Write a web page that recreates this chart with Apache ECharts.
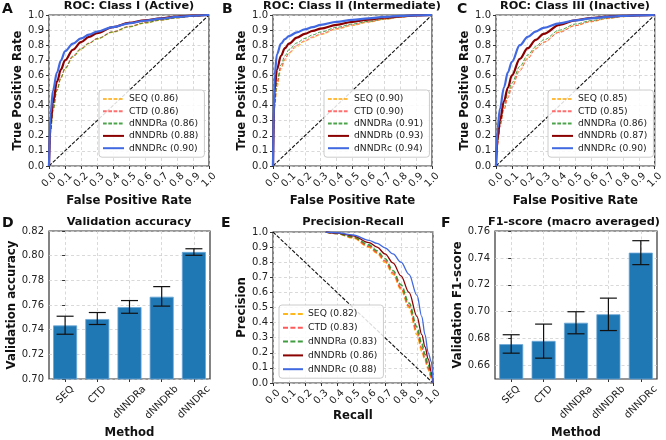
<!DOCTYPE html>
<html><head><meta charset="utf-8">
<script src="https://cdn.jsdelivr.net/npm/echarts@6/dist/echarts.min.js"></script>
<style>html,body{margin:0;padding:0;background:#fff}#c{width:666px;height:440px}</style>
</head><body><div id="c"></div>
<script>
const methods = ['SEQ','CTD','dNNDRa','dNNDRb','dNNDRc'];
const fprGrid = [0,0.01,0.025,0.05,0.075,0.1,0.15,0.2,0.25,0.3,0.4,0.5,0.6,0.7,0.8,0.9,1.0];
const unitTickLabels = ['0.0','0.1','0.2','0.3','0.4','0.5','0.6','0.7','0.8','0.9','1.0'];

// Panel A: ROC Class I (Active)
const aucA = [0.86,0.86,0.86,0.88,0.90];
const rocA_SEQ    = [0,0.22,0.36,0.50,0.58,0.64,0.72,0.77,0.81,0.84,0.885,0.92,0.945,0.965,0.98,0.992,1];
const rocA_CTD    = [0,0.24,0.38,0.51,0.59,0.65,0.73,0.78,0.815,0.845,0.89,0.925,0.95,0.968,0.982,0.993,1];
const rocA_dNNDRa = [0,0.23,0.37,0.50,0.585,0.645,0.725,0.775,0.812,0.842,0.888,0.922,0.948,0.967,0.981,0.992,1];
const rocA_dNNDRb = [0,0.28,0.42,0.56,0.64,0.70,0.77,0.82,0.855,0.88,0.92,0.948,0.965,0.978,0.99,0.996,1];
const rocA_dNNDRc = [0,0.35,0.50,0.62,0.70,0.76,0.81,0.845,0.87,0.89,0.92,0.945,0.962,0.976,0.988,0.995,1];

// Panel B: ROC Class II (Intermediate)
const aucB = [0.90,0.90,0.91,0.93,0.94];
const rocB_SEQ    = [0,0.38,0.52,0.64,0.70,0.745,0.79,0.825,0.85,0.87,0.905,0.93,0.952,0.97,0.985,0.995,1];
const rocB_CTD    = [0,0.40,0.54,0.65,0.71,0.75,0.80,0.83,0.855,0.875,0.91,0.935,0.955,0.972,0.986,0.995,1];
const rocB_dNNDRa = [0,0.42,0.56,0.67,0.73,0.77,0.815,0.845,0.868,0.887,0.918,0.94,0.958,0.974,0.987,0.996,1];
const rocB_dNNDRb = [0,0.50,0.64,0.73,0.78,0.81,0.85,0.875,0.895,0.91,0.935,0.955,0.97,0.982,0.991,0.997,1];
const rocB_dNNDRc = [0,0.60,0.74,0.81,0.84,0.86,0.885,0.905,0.92,0.935,0.955,0.968,0.978,0.987,0.994,0.998,1];

// Panel C: ROC Class III (Inactive)
const aucC = [0.85,0.85,0.86,0.87,0.90];
const rocC_SEQ    = [0,0.15,0.27,0.38,0.46,0.53,0.64,0.72,0.78,0.82,0.89,0.93,0.955,0.975,0.988,0.996,1];
const rocC_CTD    = [0,0.14,0.26,0.37,0.45,0.52,0.63,0.71,0.775,0.82,0.885,0.93,0.958,0.978,0.99,0.997,1];
const rocC_dNNDRa = [0,0.16,0.28,0.40,0.48,0.55,0.66,0.735,0.79,0.835,0.90,0.94,0.963,0.98,0.991,0.997,1];
const rocC_dNNDRb = [0,0.18,0.30,0.43,0.52,0.60,0.71,0.78,0.835,0.875,0.935,0.965,0.98,0.99,0.995,0.998,1];
const rocC_dNNDRc = [0,0.25,0.38,0.52,0.62,0.69,0.80,0.855,0.89,0.915,0.945,0.965,0.978,0.988,0.994,0.998,1];

// Panel E: Precision-Recall
const apE = [0.82,0.83,0.83,0.86,0.88];
const recallGrid  = [0.33,0.4,0.5,0.6,0.65,0.7,0.75,0.8,0.85,0.9,0.93,0.95,0.97,0.99,1.0];
const prE_SEQ    = [1.0,0.99,0.96,0.90,0.86,0.80,0.72,0.62,0.50,0.32,0.21,0.15,0.09,0.03,0];
const prE_CTD    = [1.0,0.99,0.965,0.905,0.865,0.81,0.73,0.63,0.51,0.34,0.23,0.16,0.10,0.04,0];
const prE_dNNDRa = [1.0,0.99,0.968,0.915,0.875,0.825,0.745,0.65,0.53,0.37,0.26,0.19,0.12,0.05,0];
const prE_dNNDRb = [1.0,0.992,0.975,0.93,0.90,0.855,0.795,0.71,0.60,0.44,0.32,0.24,0.16,0.07,0];
const prE_dNNDRc = [1.0,0.995,0.98,0.945,0.925,0.895,0.855,0.80,0.72,0.58,0.44,0.32,0.20,0.14,0];

// Panel D: Validation accuracy
const accMean = [0.7434,0.7486,0.7583,0.7667,0.8030];
const accLow  = [0.7363,0.7442,0.7533,0.7591,0.8003];
const accHigh = [0.7509,0.7539,0.7636,0.7749,0.8056];

// Panel F: F1-score
const f1Mean = [0.6759,0.6783,0.6918,0.6981,0.7439];
const f1Low  = [0.6692,0.6655,0.6836,0.6860,0.7350];
const f1High = [0.6829,0.6908,0.7000,0.7101,0.7528];
const f1Ticks = [0.66,0.68,0.70,0.72,0.74,0.76];
const catPos = [0,1,2,3,4];

const FONT = 'DejaVu Sans';
const LABEL_FS = 10;
const rocStyle = [
  {color:'rgba(255,165,0,0.75)', width:1, type:[3.7,1.6]},
  {color:'rgba(255,50,50,0.7)', width:1, type:[3.7,1.6]},
  {color:'rgba(30,140,30,0.8)', width:1, type:[3.7,1.6]},
  {color:'#8b0000', width:2.2, type:'solid'},
  {color:'#4169e1', width:2.2, type:'solid'}
];
const prStyle = [
  {color:'rgba(255,175,0,0.9)', width:1.6, type:[5,2.4]},
  {color:'rgba(255,60,60,0.85)', width:1.6, type:[5,2.4]},
  {color:'rgba(30,140,30,0.85)', width:1.6, type:[5,2.4]},
  {color:'#8b0000', width:1.3, type:'solid'},
  {color:'#4169e1', width:1.3, type:'solid'}
];

function pts(xs, ys){ return xs.map((x,i)=>[x, ys[i]]); }

// measure text to centre 45-degree rotated labels under their tick (matplotlib ha='center')
const mctx = document.createElement('canvas').getContext('2d');
function textW(t, fs){ mctx.font = fs + 'px "' + FONT + '"'; return mctx.measureText(t).width; }
function rotRich(texts, prefix){
  const rich = {};
  texts.forEach((t, i) => {
    const L = textW(t, LABEL_FS), h = LABEL_FS;
    const D = 5 + 0.3536 * (L + h);
    const P = 1.4142 * D;
    rich[prefix + i] = {fontFamily:FONT, fontSize:LABEL_FS, color:'#222', padding:[P, P, 0, 0]};
  });
  return rich;
}

const grids = [
  {left:49, top:15, width:160, height:151},
  {left:273, top:15, width:159, height:151},
  {left:496, top:15, width:159, height:151},
  {left:49, top:231, width:161, height:152},
  {left:273, top:232, width:160, height:151},
  {left:495, top:231, width:162, height:152}
].map(g => Object.assign(g, {show:true, borderColor:'#333', borderWidth:1.2, backgroundColor:'transparent'}));

const splitLine = {show:true, lineStyle:{color:'#cfcfcf', type:[3,2.5], width:0.8}};
const tick = {show:true, length:3, lineStyle:{color:'#333', width:1}};
const lab = {fontFamily:FONT, fontSize:LABEL_FS, color:'#222'};
const nameStyle = {fontFamily:FONT, fontSize:11.7, fontWeight:'bold', color:'#111'};
const unitRich = rotRich(unitTickLabels, 'u');
const catRich = rotRich(methods, 'm');

function unitX(gi, name, gap){
  return {type:'value', gridIndex:gi, min:0, max:1, interval:0.1,
    axisLine:{show:false}, axisTick:tick, splitLine,
    axisLabel:Object.assign({}, lab, {rotate:45, margin:0, align:'center', verticalAlign:'middle',
      formatter:v=>{const i=Math.round(v*10); return '{u'+i+'|'+unitTickLabels[i]+'}';}, rich:unitRich}),
    name, nameLocation:'middle', nameGap:gap, nameTextStyle:nameStyle};
}
function unitY(gi, name, gap){
  return {type:'value', gridIndex:gi, min:0, max:1, interval:0.1,
    axisLine:{show:false}, axisTick:tick, splitLine,
    axisLabel:Object.assign({margin:5, formatter:v=>unitTickLabels[Math.round(v*10)]}, lab),
    name, nameLocation:'middle', nameGap:gap, nameTextStyle:nameStyle};
}
function catX(gi){
  return {type:'value', gridIndex:gi, min:-0.5, max:4.5,
    axisLine:{show:false},
    axisTick:Object.assign({customValues:catPos}, tick), splitLine,
    axisLabel:Object.assign({}, lab, {customValues:catPos, rotate:45, margin:0, align:'center', verticalAlign:'middle',
      formatter:v=>{const i=Math.round(v); return '{m'+i+'|'+methods[i]+'}';}, rich:catRich}),
    name:'Method', nameLocation:'middle', nameGap:48, nameTextStyle:nameStyle};
}

const xAxis = [unitX(0,'False Positive Rate',29), unitX(1,'False Positive Rate',29), unitX(2,'False Positive Rate',29),
  catX(3), unitX(4,'Recall',27), catX(5)];
const yAxis = [unitY(0,'True Positive Rate',24), unitY(1,'True Positive Rate',24), unitY(2,'True Positive Rate',24),
  {type:'value', gridIndex:3, min:0.70, max:0.82, interval:0.02,
    axisLine:{show:false}, axisTick:tick, splitLine,
    axisLabel:Object.assign({margin:5, formatter:v=>v.toFixed(2)}, lab),
    name:'Validation accuracy', nameLocation:'middle', nameGap:30, nameTextStyle:nameStyle},
  unitY(4,'Precision',24),
  {type:'value', gridIndex:5, min:0.65, max:0.76,
    axisLine:{show:false}, axisTick:Object.assign({customValues:f1Ticks}, tick), splitLine,
    axisLabel:Object.assign({customValues:f1Ticks, margin:5, formatter:v=>v.toFixed(2)}, lab),
    name:'Validation F1-score', nameLocation:'middle', nameGap:30, nameTextStyle:nameStyle}
];

const series = [];
function diag(gi, data){
  series.push({type:'line', xAxisIndex:gi, yAxisIndex:gi, data, symbol:'none', silent:true,
    lineStyle:{color:'#111', width:1.1, type:[3.7,1.6]}, z:1});
}
function curves(gi, xs, ysList, scores, styles){
  ysList.forEach((ys, i) => {
    const st = styles[i];
    series.push({type:'line', name:methods[i]+' ('+scores[i].toFixed(2)+')', xAxisIndex:gi, yAxisIndex:gi,
      data:pts(xs, ys), symbol:'none', smooth:0.35, smoothMonotone:'x', clip:true,
      color:st.color, lineStyle:{color:st.color, width:st.width, type:st.type}, z:2+i});
  });
}
diag(0, [[0,0],[1,1]]); diag(1, [[0,0],[1,1]]); diag(2, [[0,0],[1,1]]); diag(4, [[0,1],[1,0]]);
curves(0, fprGrid, [rocA_SEQ,rocA_CTD,rocA_dNNDRa,rocA_dNNDRb,rocA_dNNDRc], aucA, rocStyle);
curves(1, fprGrid, [rocB_SEQ,rocB_CTD,rocB_dNNDRa,rocB_dNNDRb,rocB_dNNDRc], aucB, rocStyle);
curves(2, fprGrid, [rocC_SEQ,rocC_CTD,rocC_dNNDRa,rocC_dNNDRb,rocC_dNNDRc], aucC, rocStyle);
curves(4, recallGrid, [prE_SEQ,prE_CTD,prE_dNNDRa,prE_dNNDRb,prE_dNNDRc], apE, prStyle);

function bars(gi, means, lows, highs){
  series.push({type:'bar', xAxisIndex:gi, yAxisIndex:gi, data:pts(catPos, means), barWidth:24, clip:true,
    itemStyle:{color:'#1f77b4', borderColor:'#6aa6d6', borderWidth:0.8}, z:2, silent:true});
  series.push({type:'custom', xAxisIndex:gi, yAxisIndex:gi, silent:true, z:5,
    data:catPos.map((c,i)=>[c, lows[i], highs[i]]),
    renderItem:(params, api)=>{
      const a = api.coord([api.value(0), api.value(1)]);
      const b = api.coord([api.value(0), api.value(2)]);
      const w = 8.5, s = {stroke:'#111', lineWidth:1.2};
      return {type:'group', children:[
        {type:'line', shape:{x1:a[0], y1:a[1], x2:b[0], y2:b[1]}, style:s},
        {type:'line', shape:{x1:a[0]-w, y1:a[1], x2:a[0]+w, y2:a[1]}, style:s},
        {type:'line', shape:{x1:b[0]-w, y1:b[1], x2:b[0]+w, y2:b[1]}, style:s}
      ]};
    }});
}
bars(3, accMean, accLow, accHigh);
bars(5, f1Mean, f1Low, f1High);

function legend(names, left, top, iw, gap){
  return {data:names, left, top, orient:'vertical', selectedMode:false,
    itemWidth:iw, itemHeight:8, itemGap:gap,
    itemStyle:{opacity:0, borderWidth:0},
    textStyle:{fontFamily:FONT, fontSize:9.2, color:'#222', lineHeight:10},
    backgroundColor:'rgba(255,255,255,0.85)', borderColor:'#cccccc', borderWidth:1, borderRadius:3,
    padding:[4,6,4,3]};
}
const nm = sc => methods.map((m,i)=>m+' ('+sc[i].toFixed(2)+')');
const legends = [
  legend(nm(aucA), 99, 90, 21, 2.3),
  legend(nm(aucB), 324, 90, 21, 2.3),
  legend(nm(aucC), 548, 90, 21, 2.3),
  legend(nm(apE), 279, 305, 20, 3.8)
];

const tStyle = {fontFamily:FONT, fontSize:11.3, fontWeight:'bold', color:'#111'};
const lStyle = {fontFamily:FONT, fontSize:14, fontWeight:'bold', color:'#111'};
const titles = [
  {text:'ROC: Class I (Active)', left:129, top:1},
  {text:'ROC: Class II (Intermediate)', left:352, top:1},
  {text:'ROC: Class III (Inactive)', left:575, top:1},
  {text:'Validation accuracy', left:129, top:217},
  {text:'Precision-Recall', left:353, top:217},
  {text:'F1-score (macro averaged)', left:574, top:217}
].map(t => Object.assign(t, {textAlign:'center', padding:0, textStyle:tStyle}));
[['A',2,2],['B',222,2],['C',457,2],['D',2,216],['E',221,216],['F',441,216]].forEach(([t,x,y]) =>
  titles.push({text:t, left:x, top:y, padding:0, textStyle:lStyle}));

const chart = echarts.init(document.getElementById('c'), null, {renderer:'canvas'});
chart.setOption({animation:false, backgroundColor:'#fff', textStyle:{fontFamily:FONT},
  title:titles, grid:grids, xAxis, yAxis, series, legend:legends});
</script></body></html>
